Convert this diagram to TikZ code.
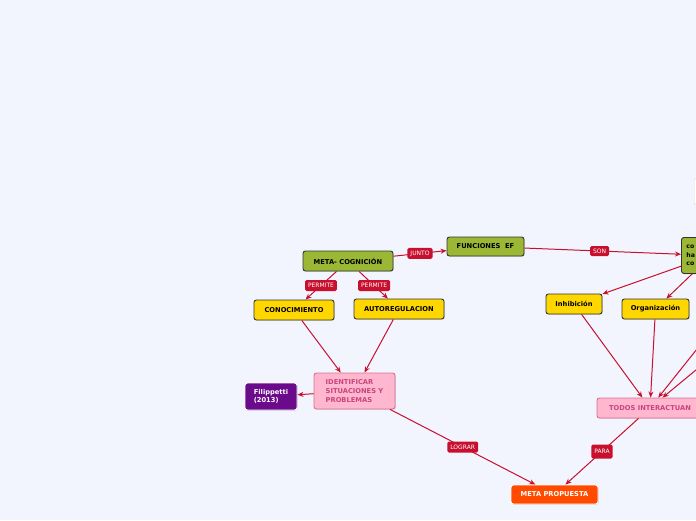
\documentclass[tikz,border=0pt]{standalone}
\usepackage{fontspec}
\setmainfont{DejaVu Sans}
\usetikzlibrary{arrows.meta,shadows}
\definecolor{bg}{HTML}{F2F5FD}
\definecolor{conncol}{HTML}{C8102E}
\definecolor{olivec}{HTML}{9AB833}
\definecolor{goldc}{HTML}{FFD700}
\definecolor{pinkfill}{HTML}{FFB6CF}
\definecolor{pinktext}{HTML}{C8457C}
\definecolor{pinkborder}{HTML}{D8708F}
\definecolor{purpc}{HTML}{6B0A8A}
\definecolor{orngc}{HTML}{FF4A00}
\tikzset{
  topic/.style={rounded corners=2.5pt, line width=0.9pt, inner sep=0pt,
    font=\fontsize{6.7}{8.6}\selectfont\bfseries,
    drop shadow={shadow xshift=0.8pt,shadow yshift=-0.8pt,opacity=0.25}},
  greenbox/.style={topic, draw=black!80, fill=olivec},
  yellowbox/.style={topic, draw=black!80, fill=goldc},
  pinkbox/.style={topic, draw=pinkborder, fill=pinkfill, text=pinktext},
  purplebox/.style={topic, draw=white, fill=purpc, text=white},
  orangebox/.style={topic, draw=white, fill=orngc, text=white},
  whitebox/.style={rounded corners=2.5pt, draw=black!15, fill=white},
  lbl/.style={rounded corners=1.5pt, fill=conncol, text=white, inner xsep=3pt,
    inner ysep=0pt, minimum height=11pt, font=\fontsize{6}{7}\selectfont},
  conn/.style={draw=conncol, line width=1pt, -{Stealth[length=6pt,width=5pt]}},
}
\begin{document}
\begin{tikzpicture}[x=1pt,y=-1pt]
\useasboundingbox (0,0) rectangle (696,520);
\clip (0,0) rectangle (696,520);
\fill[bg] (0,0) rectangle (696,520);

\node[whitebox, anchor=north west, minimum width=30pt, minimum height=27pt] (wb) at (694,178) {};

\node[greenbox, minimum width=90pt, minimum height=20pt] (meta) at (348,261) {META- COGNICIÓN};
\node[greenbox, minimum width=77pt, minimum height=19pt] (fun) at (485.5,246.5) {FUNCIONES\ \ EF};
\node[greenbox, anchor=north west, minimum width=60pt, minimum height=36pt, text width=50pt, align=left, font=\fontsize{6.2}{8.6}\selectfont\bfseries] (cog) at (681,237) {co\\ha\\co};
\node[yellowbox, minimum width=80pt, minimum height=20pt] (conoc) at (294,310) {CONOCIMIENTO};
\node[yellowbox, minimum width=90pt, minimum height=20pt] (autor) at (399,309) {AUTOREGULACION};
\node[pinkbox, minimum width=81pt, minimum height=36pt, align=left] (ident) at (354.5,391) {IDENTIFICAR\\SITUACIONES Y\\PROBLEMAS};
\node[purplebox, minimum width=52pt, minimum height=27pt, align=left] (filip) at (271,396.5) {Filippetti\\(2013)};
\node[orangebox, minimum width=87pt, minimum height=19pt] (metap) at (554.5,494.5) {META PROPUESTA};
\node[pinkbox, minimum width=106pt, minimum height=20pt] (todos) at (650,408) {TODOS INTERACTUAN};
\node[yellowbox, minimum width=56pt, minimum height=20pt] (inhib) at (574,304) {Inhibición};
\node[yellowbox, minimum width=67pt, minimum height=20pt] (organ) at (655.5,309) {Organización};

\coordinate (off1) at (740,295);
\coordinate (off2) at (760,317);

\draw[conn] (meta) -- (fun) node[lbl, pos=0.5] {JUNTO};
\draw[conn] (fun) -- (cog) node[lbl, pos=0.48, minimum height=10pt] {SON};
\draw[conn] (meta) -- (conoc) node[lbl, pos=0.5] {PERMITE};
\draw[conn] (meta) -- (autor) node[lbl, pos=0.52] {PERMITE};
\draw[conn] (conoc) -- (ident);
\draw[conn] (autor) -- (ident);
\draw[conn] (ident) -- (filip);
\draw[conn] (ident) -- (metap) node[lbl, pos=0.5] {LOGRAR};
\draw[conn] (todos) -- (metap) node[lbl, pos=0.5, minimum height=14pt] {PARA};
\draw[conn] (cog) -- (inhib);
\draw[conn] (cog) -- (organ);
\draw[conn] (inhib) -- (todos);
\draw[conn] (organ) -- (todos);
\draw[conn] (off1) -- (todos);
\draw[conn] (off2) -- (todos);
\end{tikzpicture}
\end{document}
